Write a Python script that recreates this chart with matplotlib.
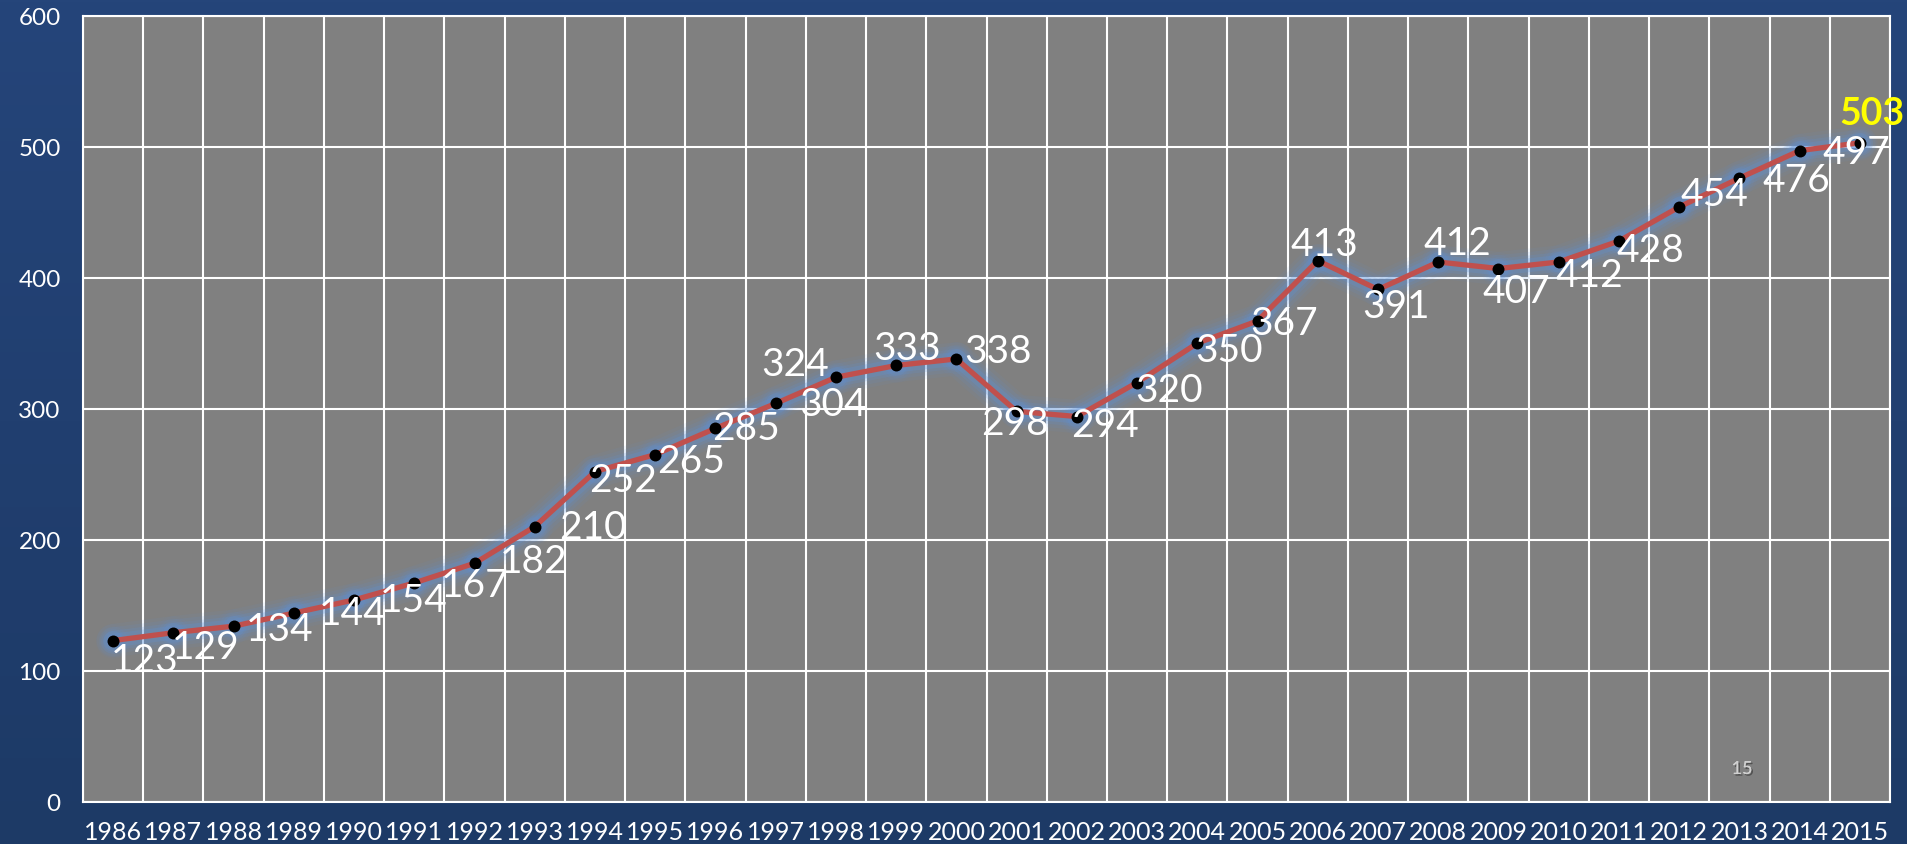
import numpy as np
import matplotlib
matplotlib.use("Agg")
import matplotlib.pyplot as plt
import matplotlib.patheffects as pe
from matplotlib.colors import LinearSegmentedColormap

years = ["1986", "1987", "1988", "1989", "1990", "1991", "1992", "1993", "1994", "1995",
         "1996", "1997", "1998", "1999", "2000", "2001", "2002", "2003", "2004", "2005",
         "2006", "2007", "2008", "2009", "2010", "2011", "2012", "2013", "2014", "2015"]
values = [123, 129, 134, 144, 154, 167, 182, 210, 252, 265,
          285, 304, 324, 333, 338, 298, 294, 320, 350, 367,
          413, 391, 412, 407, 412, 428, 454, 476, 497, 503]
y_ticks = [0, 100, 200, 300, 400, 500, 600]
highlight_index = 29  # last value shown in yellow

# label centre offsets from each point, in pixels (x right, y up)
label_dx = [31, 32, 46, 59, 60, 60, 59, 58, 28, 36, 31, 57, -41, 11, 42, -2, 28, 32, 32, 27,
            7, 18, 19, 18, 31, 31, 35, 57, 57, 12]
label_dy = [-19, -14, -3, 0, 0, -2, 2, 0, -8, -6, 0, -1, 13, 17, 8, -12, -8, -8, -7, -2,
            17, -17, 19, -22, -13, -9, 13, -2, -1, 30]

DPI = 100
fig = plt.figure(figsize=(19.07, 8.45), dpi=DPI)

# background gradient
bg = fig.add_axes([0, 0, 1, 1], zorder=-10)
cmap = LinearSegmentedColormap.from_list("bg", ["#25457A", "#213F70", "#1D3A66"])
grad = np.linspace(0, 1, 256).reshape(-1, 1)
bg.imshow(grad, aspect="auto", cmap=cmap, extent=[0, 1, 0, 1], origin="upper")
bg.axis("off")

left, right = 83 / 1907, 1890 / 1907
bottom, top = 1 - 802.7 / 845, 1 - 16.7 / 845
ax = fig.add_axes([left, bottom, right - left, top - bottom])
ax.set_facecolor("#808080")

x = np.arange(len(years))
ax.set_xlim(-0.5, len(years) - 0.5)
ax.set_ylim(0, 600)

# grid
ax.set_yticks(y_ticks)
ax.set_xticks(x)
ax.grid(False)
for yv in y_ticks:
    ax.axhline(yv, color="white", lw=1.5, zorder=1)
for xv in np.arange(-0.5, len(years), 1.0):
    ax.axvline(xv, color="white", lw=1.5, zorder=1)
for s in ax.spines.values():
    s.set_color("white")
    s.set_linewidth(1.5)

ax.set_xticklabels(years, fontsize=18, color="white", family="Lato")
ax.set_yticklabels([str(t) for t in y_ticks], fontsize=17.5, color="white", family="Lato")
ax.tick_params(axis="both", which="both", length=0)
ax.tick_params(axis="x", pad=13)
ax.tick_params(axis="y", pad=16)

# glow
for w, a in [(24, 0.07), (19, 0.1), (14, 0.16), (10, 0.24)]:
    ax.plot(x, values, color="#5E92D8", lw=w, alpha=a, solid_joinstyle="round",
            solid_capstyle="round", zorder=2)
    ax.plot(x, values, "o", color="#5E92D8", ms=8 + w * 0.7, alpha=a * 0.8,
            markeredgewidth=0, zorder=2)

ax.plot(x, values, color="#C0504D", lw=3.8, solid_joinstyle="round", zorder=3)
ax.plot(x, values, "o", color="black", ms=8.6, markeredgewidth=0, zorder=4)

px2pt = 72 / DPI
for i, (xi, v) in enumerate(zip(x, values)):
    if i == highlight_index:
        ax.annotate(str(v), (xi, v), xytext=(label_dx[i] * px2pt, label_dy[i] * px2pt),
                    textcoords="offset points", ha="center", va="center",
                    fontsize=27, fontweight="bold", color="#FFFF00", family="Lato",
                    annotation_clip=False, zorder=6)
    else:
        ax.annotate(str(v), (xi, v), xytext=(label_dx[i] * px2pt, label_dy[i] * px2pt),
                    textcoords="offset points", ha="center", va="center",
                    fontsize=28, color="white", family="Lato",
                    annotation_clip=False, zorder=5)

fig.text(1742 / 1907, 1 - 770 / 845, "15", fontsize=13, color="#D0D0D0", family="Lato",
         ha="center", va="center",
         path_effects=[pe.withSimplePatchShadow(offset=(1.2, -1.2), shadow_rgbFace="#303030", alpha=0.6),
                       pe.Normal()])

fig.savefig("out.png", dpi=DPI)
